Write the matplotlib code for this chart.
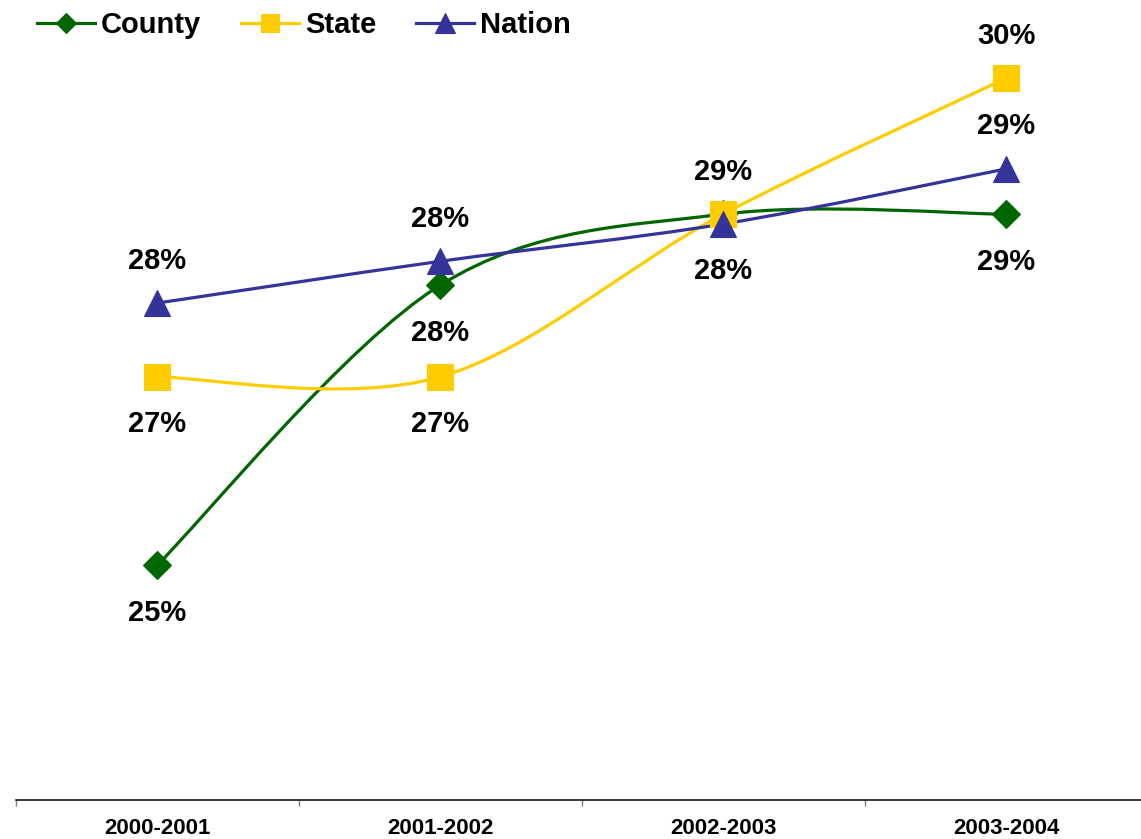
import matplotlib
matplotlib.use("Agg")
import matplotlib.pyplot as plt
from matplotlib.lines import Line2D
from matplotlib.path import Path
from matplotlib.patches import PathPatch
import numpy as np

plt.rcParams["font.family"] = ["Liberation Sans", "DejaVu Sans"]

# values in percent
YEARS = ["2000-2001", "2001-2002", "2002-2003", "2003-2004"]
COUNTY = [24.64, 27.79, 28.59, 28.59]
STATE = [26.76, 26.76, 28.59, 30.12]
NATION = [27.59, 28.06, 28.48, 29.10]

GREEN = "#006600"
YELLOW = "#FFCC00"
BLUE = "#333399"

# label side per point: 1 above, -1 below, 0 none (County 2002-03 hidden)
LABEL_SIDE = {
    "County": [-1, -1, 0, -1],
    "State": [-1, -1, 1, 1],
    "Nation": [1, 1, -1, 1],
}


def smooth_path(xs, ys):
    # Excel-like smoothed line: cubic beziers with catmull-rom tangents
    pts = np.column_stack([xs, ys]).astype(float)
    n = len(pts)
    verts = [pts[0]]
    codes = [Path.MOVETO]
    for i in range(n - 1):
        p0 = pts[max(i - 1, 0)]
        p1 = pts[i]
        p2 = pts[i + 1]
        p3 = pts[min(i + 2, n - 1)]
        verts += [p1 + (p2 - p0) / 6, p2 - (p3 - p1) / 6, p2]
        codes += [Path.CURVE4] * 3
    return Path(verts, codes)


fig = plt.figure(figsize=(11.41, 8.39), dpi=100)
ax = fig.add_axes([15.5 / 1141, 39 / 839, 1132 / 1141, 800 / 839])
ax.set_xlim(-0.5, 3.5)
ax.set_ylim(22, 31)

x = np.arange(len(YEARS))
# name, values, colour, marker, size on plot, size in legend
series = [
    ("County", COUNTY, GREEN, "D", 14, 10.5),
    ("State", STATE, YELLOW, "s", 18.5, 13),
    ("Nation", NATION, BLUE, "^", 18.5, 14.5),
]

handles = []
for name, vals, col, mk, ms, lms in series:
    ax.add_patch(PathPatch(smooth_path(x, vals), facecolor="none",
                           edgecolor=col, lw=2.3, zorder=2))
    ax.plot(x, vals, ls="none", marker=mk, ms=ms, color=col,
            mec=col, mew=0.8, zorder=3)
    handles.append(Line2D([], [], color=col, lw=2.3, marker=mk, ms=lms,
                          mec=col, mew=0.8))
    for xi, v, side in zip(x, vals, LABEL_SIDE[name]):
        if side == 0:
            continue
        ax.annotate(f"{v:.0f}%", (xi, v), xytext=(0, side * 32.4 - 1.8),
                    textcoords="offset points", ha="center", va="center",
                    fontsize=21, fontweight="bold", color="black")

for s in ("left", "right", "top"):
    ax.spines[s].set_visible(False)
ax.spines["bottom"].set_color("black")
ax.spines["bottom"].set_linewidth(1.1)
ax.set_yticks([])

ax.set_xticks(x)
ax.set_xticklabels(YEARS, fontsize=16, fontweight="bold")
ax.tick_params(axis="x", which="major", length=0, pad=13)
ax.set_xticks(np.arange(-0.5, 3.6, 1.0), minor=True)
ax.tick_params(axis="x", which="minor", length=4.5, width=1, color="#808080",
               direction="out")

fig.legend(handles, [s[0] for s in series], loc="upper left",
           bbox_to_anchor=(37 / 1141, 1 - 11 / 839), ncol=3, frameon=False,
           prop={"weight": "bold", "size": 21},
           handlelength=2.0, handletextpad=0.2, columnspacing=1.35,
           borderpad=0, borderaxespad=0)

fig.savefig("out.png", dpi=100)
